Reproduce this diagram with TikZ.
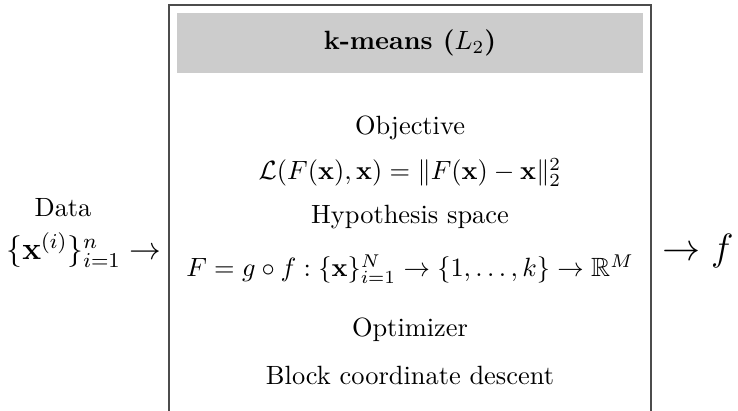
\documentclass[tikz,border=0pt]{standalone}
\usepackage{tikz}
\usepackage{amsmath, amsthm, amssymb}
\usepackage{xcolor}

\begin{document}
\begin{tikzpicture}[x=0.3788pt, y=-0.3788pt, every node/.style={inner sep=0pt, anchor=base}]
  \useasboundingbox (0,0) rectangle (738,411);
  % model box, open at the bottom
  \draw[black!70, line width=0.75pt] (169,420) -- (169,5) -- (651,5) -- (651,420);
  \fill[black!20] (177,13) rectangle (643,73);
  \node (title) at (410,50) {\textbf{k-means ($L_2$)}};
  \node (objlabel) at (410,135) {Objective};
  \node (objeq) at (410,180)
    {$\mathcal{L}(F(\mathbf{x}), \mathbf{x}) = \|F(\mathbf{x}) - \mathbf{x}\|_2^2$};
  \node (hyplabel) at (410,224) {Hypothesis space};
  \node (hypeq) at (410,277)
    {$F = g \circ f : \{\mathbf{x}\}_{i=1}^N \to \{1, \ldots, k\} \to \mathbb{R}^M$};
  \node (optlabel) at (410,337) {Optimizer};
  \node (optname) at (410,385) {Block coordinate descent};
  % input and output
  \node (data) at (63,217) {Data};
  \node (input) at (84,260) {\large$\{\mathbf{x}^{(i)}\}_{i=1}^n \rightarrow$};
  \node (output) at (698,261) {\Large$\rightarrow f$};
\end{tikzpicture}
\end{document}
